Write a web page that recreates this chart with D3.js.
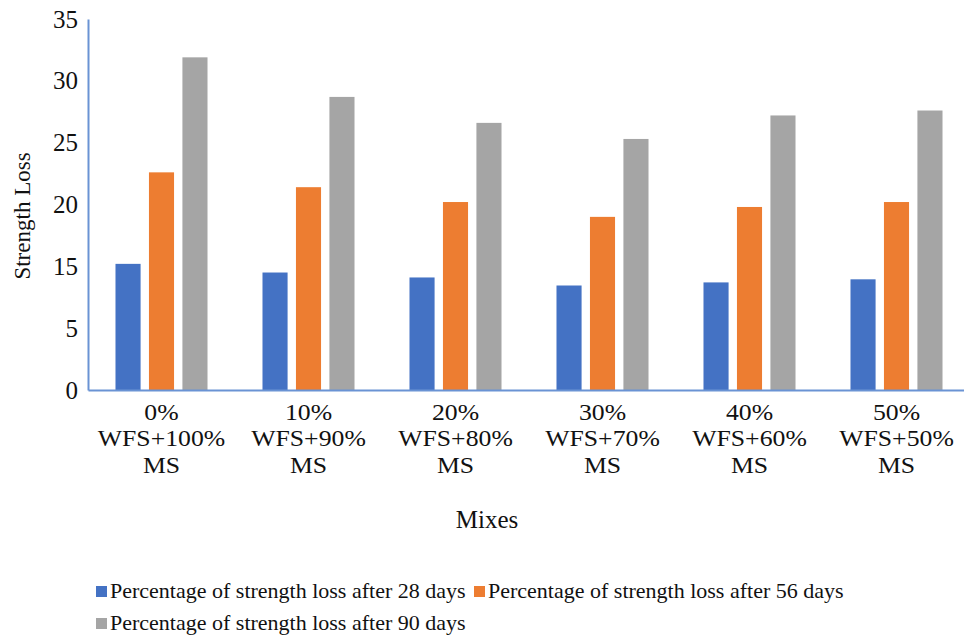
<!DOCTYPE html>
<html>
<head>
<meta charset="utf-8">
<script src="https://cdn.jsdelivr.net/npm/d3@7"></script>
<style>
  html, body { margin: 0; padding: 0; background: #fff; }
  svg { display: block; }
</style>
</head>
<body>
<svg id="chart" width="964" height="636"></svg>
<script>
// ---- data ----
const categories = [
  ["0%", "WFS+100%", "MS"],
  ["10%", "WFS+90%", "MS"],
  ["20%", "WFS+80%", "MS"],
  ["30%", "WFS+70%", "MS"],
  ["40%", "WFS+60%", "MS"],
  ["50%", "WFS+50%", "MS"]
];
const seriesNames = [
  "Percentage of strength loss after 28 days",
  "Percentage of strength loss after 56 days",
  "Percentage of strength loss after 90 days"
];
const loss28 = [15.2, 14.0, 13.2, 11.9, 12.4, 12.9];
const loss56 = [22.6, 21.4, 20.2, 19.0, 19.8, 20.2];
const loss90 = [31.9, 28.7, 26.6, 25.3, 27.2, 27.6];
const yTickValues = [0, 5, 15, 20, 25, 30, 35];
const yTickLabels = ["0", "5", "15", "20", "25", "30", "35"];
const colors = ["#4472C4", "#ED7D31", "#A5A5A5"];
const axisColor = "#6a93d4";
const FONT = "Liberation Serif";

// ---- layout ----
const svg = d3.select("#chart").attr("font-family", FONT);
const mLeft = 88, mRight = 970, mTop = 19, mBottom = 390;

const catKeys = categories.map((c, i) => i);
const x0 = d3.scaleBand().domain(catKeys).range([mLeft, mRight])
  .paddingInner(0.374).paddingOuter(0.187);
const x1 = d3.scaleBand().domain([0, 1, 2]).range([0, x0.bandwidth()])
  .paddingInner(0.25).paddingOuter(0);

// axis labels are evenly spaced on the page
const yStep = (mBottom - mTop) / (yTickValues.length - 1);
const y = d3.scaleLinear().domain(yTickValues)
  .range(yTickValues.map((v, i) => mBottom - i * yStep));

const series = [loss28, loss56, loss90];

// bars
const groups = svg.append("g").selectAll("g")
  .data(catKeys).join("g")
  .attr("transform", d => `translate(${x0(d)},0)`);
groups.selectAll("rect")
  .data(ci => series.map((s, si) => ({ si, v: s[ci] })))
  .join("rect")
  .attr("x", d => x1(d.si))
  .attr("width", x1.bandwidth())
  .attr("y", d => y(d.v))
  .attr("height", d => y(0) - y(d.v))
  .attr("fill", d => colors[d.si]);

// y axis
const yAxis = svg.append("g").attr("transform", `translate(${mLeft},0)`)
  .call(d3.axisLeft(y).tickValues(yTickValues)
    .tickFormat((d, i) => yTickLabels[i]).tickSize(0).tickPadding(10));
yAxis.attr("font-family", FONT).attr("font-size", 25);
yAxis.select(".domain").attr("stroke", axisColor).attr("stroke-width", 2);
yAxis.selectAll("text").attr("fill", "#111");

// x axis
const xAxis = svg.append("g").attr("transform", `translate(0,${mBottom})`)
  .call(d3.axisBottom(x0).tickSize(0).tickFormat(""));
xAxis.attr("font-family", FONT).attr("font-size", 23);
xAxis.select(".domain").attr("stroke", axisColor).attr("stroke-width", 2);
xAxis.selectAll(".tick").each(function(d) {
  const g = d3.select(this).append("g").attr("transform", "scale(1.12,1)");
  categories[d].forEach((line, li) => {
    g.append("text")
      .attr("text-anchor", "middle")
      .attr("fill", "#111")
      .attr("x", 0).attr("y", 30 + li * 26.5).text(line);
  });
});

// axis titles
svg.append("text").attr("x", 487).attr("y", 528)
  .attr("text-anchor", "middle").attr("font-size", 25).attr("fill", "#111").text("Mixes");
svg.append("text")
  .attr("transform", "translate(30,216) rotate(-90)")
  .attr("text-anchor", "middle").attr("font-size", 23).attr("fill", "#111").text("Strength Loss");

// legend
const legendPos = [[96, 598], [474, 598], [96, 630]];
const leg = svg.append("g").selectAll("g").data(seriesNames).join("g")
  .attr("transform", (d, i) => `translate(${legendPos[i][0]},${legendPos[i][1]})`);
leg.append("rect").attr("x", 0).attr("y", -12).attr("width", 11).attr("height", 11)
  .attr("fill", (d, i) => colors[i]);
leg.append("text").attr("x", 14).attr("y", 0).attr("font-size", 22)
  .attr("fill", "#111").text(d => d);
</script>
</body>
</html>
